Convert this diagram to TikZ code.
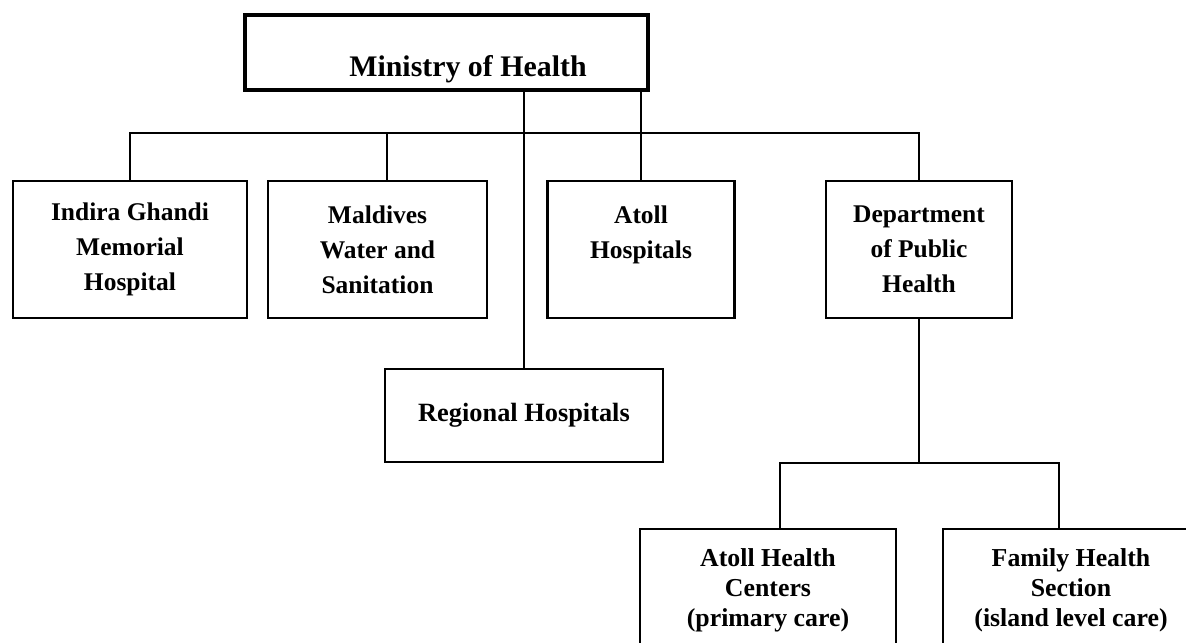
\documentclass[tikz,border=0pt]{standalone}
\usepackage{fontspec}
\setmainfont{Liberation Serif}
\usepackage{tikz}
\usetikzlibrary{positioning}

\begin{document}
\begin{tikzpicture}[x=0.02cm,y=-0.02cm,line width=1.2pt,
  unit/.style={draw,line width=1.6pt,align=center,inner sep=0pt,
    minimum height=2.74cm,font=\fontsize{14.5}{19.8}\selectfont\bfseries},
  sub/.style={draw,line width=1pt,align=center,inner sep=0pt,
    font=\fontsize{14.7}{17}\selectfont\bfseries}]
  \useasboundingbox (0,0) rectangle (1186,642);
  \clip (0,0) rectangle (1186,642);
  \node[draw,line width=1.8pt,minimum width=8.06cm,minimum height=1.5cm,
        text height=27pt,text depth=0pt,inner sep=0pt,
        font=\fontsize{17}{20}\selectfont\bfseries]
        (moh) at (446.5,52.5) {\hspace*{0.86cm}Ministry of Health};
  \node[unit,minimum width=4.68cm] (igmh) at (130,249.5)   {Indira Ghandi\\Memorial\\Hospital};
  \node[unit,minimum width=4.38cm] (mws)  at (377.5,249.5) {Maldives\\Water and\\Sanitation};
  \node[unit,minimum width=3.74cm] (ah)   at (641,249.5)   {Atoll\\Hospitals\\\mbox{}};
  \node[unit,minimum width=3.72cm] (dph)  at (919,249.5)   {Department\\of Public\\Health};
  \node[sub,minimum width=5.56cm,minimum height=1.86cm,
        font=\fontsize{15}{18}\selectfont\bfseries] (reg) at (524,415.5) {Regional Hospitals};
  \node[sub,minimum width=5.12cm,minimum height=2.44cm] (ahc) at (768,590)  {Atoll Health\\Centers\\(primary care)};
  \node[sub,minimum width=5.12cm,minimum height=2.44cm] (fhs) at (1071,590) {Family Health\\Section\\(island level care)};
  % ministry to its units
  \draw (igmh.north) -- ++(0,-47) -| (dph.north);
  \draw ([xshift=0.19cm]mws.north) -- ++(0,-47);
  \draw (reg.north) -- (reg.north |- moh.south);
  \draw (ah.north) -- (ah.north |- moh.south);
  % public health to its sections
  \draw (dph.south) -- ++(0,144) coordinate (split);
  \draw ([xshift=0.24cm]ahc.north) |- (split) -| ([xshift=-0.24cm]fhs.north);
\end{tikzpicture}
\end{document}
